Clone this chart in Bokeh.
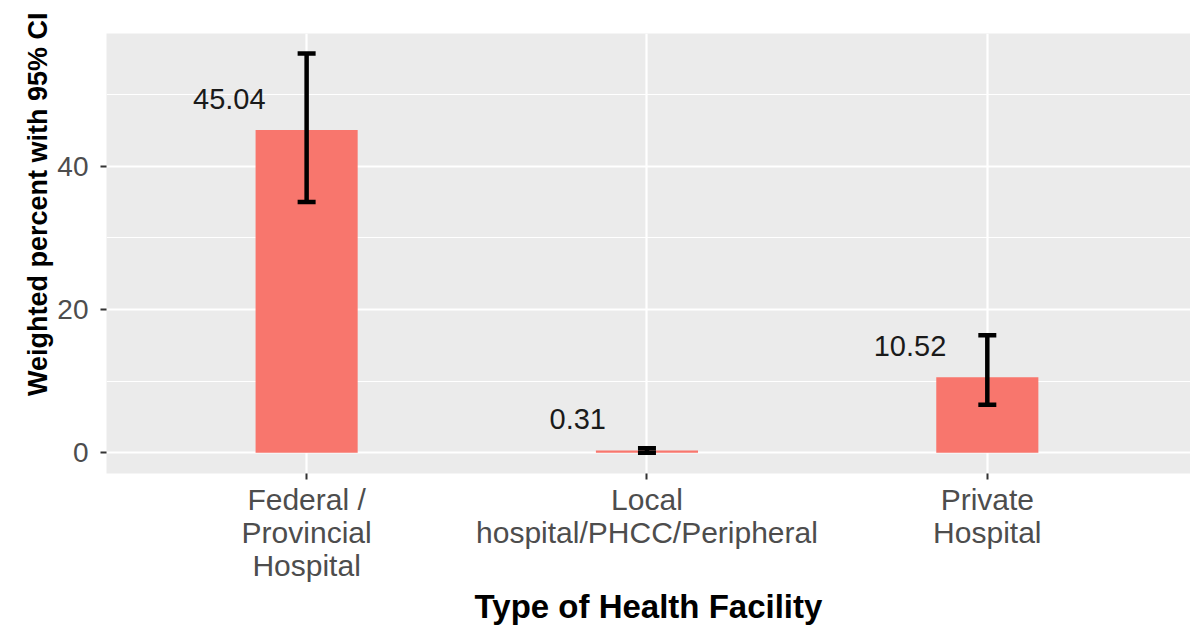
from bokeh.plotting import figure
from bokeh.models import Range1d, FixedTicker, Whisker, ColumnDataSource, TeeHead, Title
from bokeh.core.properties import value
from bokeh.embed import file_html
from bokeh.resources import INLINE

categories = ["Federal /\nProvincial\nHospital", "Local\nhospital/PHCC/Peripheral", "Private\nHospital"]
percent = [45.04, 0.31, 10.52]
ci_low = [35.0, 0.0, 6.7]
ci_high = [55.7, 0.62, 16.4]
y_ticks = [0, 20, 40]
y_minor = [10, 30, 50]
x_title = "Type of Health Facility"
y_title = "Weighted percent with 95% CI"

xs = list(range(1, len(categories) + 1))
src = ColumnDataSource(dict(
    x=xs, top=percent, lo=ci_low, hi=ci_high,
    label=[f"{v:.2f}" for v in percent],
))

FONT = "Liberation Sans"
p = figure(width=1190, height=627, output_backend="svg", toolbar_location=None,
           x_range=Range1d(0.412, 3.597), y_range=Range1d(-2.9, 58.5),
           min_border_left=106, min_border_right=0, min_border_top=33, min_border_bottom=149)
p.outline_line_color = None
p.background_fill_color = "#EBEBEB"
p.border_fill_color = "white"

p.vbar(x="x", top="top", bottom=0, width=0.3, source=src, fill_color="#F8766D", line_color=None)
w = Whisker(base="x", upper="hi", lower="lo", source=src, dimension="height",
            line_color="black", line_width=4.5, level="overlay",
            upper_head=TeeHead(size=18, line_width=4.5, line_color="black"),
            lower_head=TeeHead(size=18, line_width=4.5, line_color="black"))
p.add_layout(w)
p.text(x="x", y="top", text="label", source=src, x_offset=-41, y_offset=-31,
       text_align="right", text_baseline="middle", text_font=value(FONT),
       text_font_size="29px", text_color="#1A1A1A")

# grid
p.xgrid.ticker = FixedTicker(ticks=xs)
p.xgrid.grid_line_color = "white"
p.xgrid.grid_line_width = 2.2
p.ygrid.ticker = FixedTicker(ticks=y_ticks, minor_ticks=y_minor)
p.ygrid.grid_line_color = "white"
p.ygrid.grid_line_width = 2.2
p.ygrid.minor_grid_line_color = "white"
p.ygrid.minor_grid_line_width = 1.1

# axes
p.xaxis.ticker = FixedTicker(ticks=xs)
p.xaxis.major_label_overrides = {i: c for i, c in zip(xs, categories)}
p.yaxis.ticker = FixedTicker(ticks=y_ticks)
for ax in (p.xaxis[0], p.yaxis[0]):
    ax.axis_line_color = None
    ax.minor_tick_line_color = None
    ax.major_tick_line_color = "#333333"
    ax.major_tick_line_width = 2
    ax.major_tick_out = 6
    ax.major_tick_in = 0
    ax.major_label_text_font = FONT
    ax.major_label_text_color = "#4D4D4D"
    ax.axis_label_text_font = FONT
    ax.axis_label_text_font_style = "bold"
    ax.axis_label_text_color = "black"
p.xaxis.major_label_text_font_size = "30px"
p.xaxis.major_label_text_line_height = 1.0
p.yaxis.major_label_text_font_size = "28px"
p.xaxis.axis_label = x_title
p.xaxis.axis_label_text_font_size = "33px"
p.xaxis.major_label_standoff = 3
p.yaxis.major_label_standoff = 12
p.xaxis.axis_label_standoff = 3

# y axis title, placed toward the top as in the reference
ytitle = Title(text=y_title, align="right", offset=-21, standoff=4,
               text_font=FONT, text_font_size="27px", text_font_style="bold",
               text_color="black")
p.add_layout(ytitle, "left")

open("out.html", "w").write(file_html(p, INLINE))
